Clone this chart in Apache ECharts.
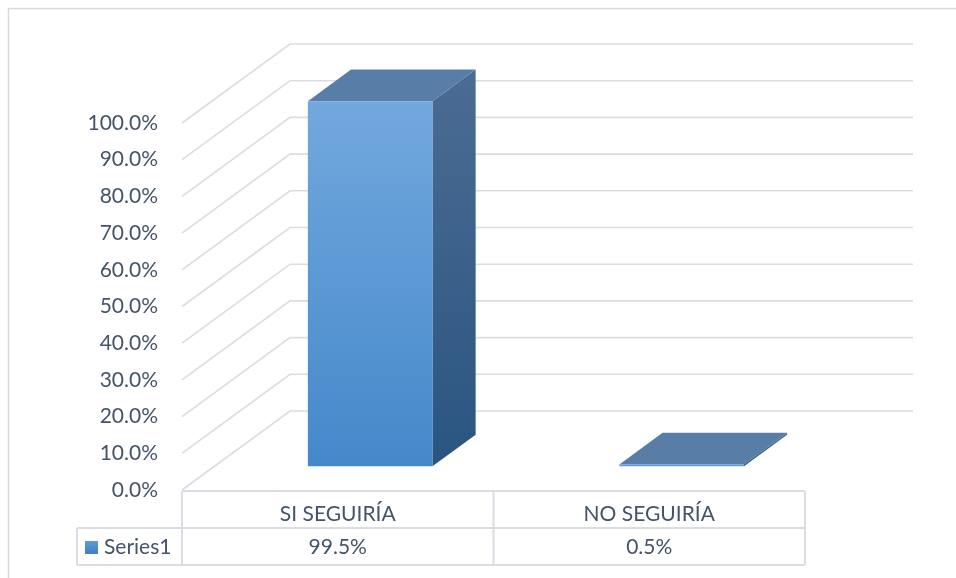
<!DOCTYPE html>
<html><head><meta charset="utf-8">
<script src="https://cdn.jsdelivr.net/npm/echarts@6/dist/echarts.min.js"></script>
<style>html,body{margin:0;padding:0;background:#fff}#c{width:956px;height:578px}</style>
</head><body><div id="c"></div>
<script>
// ---- data ----
const categories = ['SI SEGUIRÍA', 'NO SEGUIRÍA'];
const seriesName = 'Series1';
const values = [99.5, 0.5];
const yTicks = [0, 10, 20, 30, 40, 50, 60, 70, 80, 90, 100];

// ---- styling / projection ----
const DX = 108, DY = -79;          // depth offset of back wall
const D0 = 0.30, D1 = 0.70;        // bar depth (front/back) as fraction of depth
const GRID = '#d9dde4';
const TXT = '#44546A';
const FONT = 'Lato';

const chart = echarts.init(document.getElementById('c'), null, {renderer: 'canvas'});

function wallsRender(params, api) {
  const cs = params.coordSys;
  const y = api.coord([0, api.value(1)])[1];
  const x0 = cs.x, x1 = cs.x + cs.width;
  return {
    type: 'polyline',
    shape: {points: [[x0, y], [x0 + DX, y + DY], [x1 + DX, y + DY]]},
    style: {stroke: GRID, lineWidth: 1.6, fill: null}
  };
}

function barRender(params, api) {
  const i = api.value(0), v = api.value(1);
  const c0 = api.coord([i, 0]);
  const c1 = api.coord([i, v]);
  const bw = api.size([1, 0])[0] * 0.4;
  const xl = c0[0] - bw / 2, xr = c0[0] + bw / 2;
  const yb = c0[1], yt = c1[1];
  const ax = DX * D0, ay = DY * D0, bx = DX * D1, by = DY * D1;
  return {
    type: 'group',
    children: [
      { type: 'polygon',
        shape: {points: [[xr + ax, yt + ay], [xr + bx, yt + by], [xr + bx, yb + by], [xr + ax, yb + ay]]},
        style: {fill: new echarts.graphic.LinearGradient(0, 0, 0, 1, [
          {offset: 0, color: '#4b6c93'}, {offset: 1, color: '#2a5581'}])}
      },
      { type: 'polygon',
        shape: {points: [[xl + ax, yt + ay], [xr + ax, yt + ay], [xr + bx, yt + by], [xl + bx, yt + by]]},
        style: {fill: '#587ea8'}
      },
      { type: 'rect',
        shape: {x: xl + ax, y: yt + ay, width: bw, height: Math.max(yb - yt, 1.5)},
        style: {fill: v > 5 ? new echarts.graphic.LinearGradient(0, 0, 0, 1, [
          {offset: 0, color: '#72a8de'}, {offset: 1, color: '#4588ca'}]) : '#5f9ad6'}
      }
    ]
  };
}

function tableRender(params, api) {
  const cs = params.coordSys;
  const bw = api.size([1, 0])[0];
  const yTop = cs.y + cs.height + 1;
  const yMid = yTop + 37;
  const yBot = yMid + 37;
  const xL = cs.x, xR = cs.x + cs.width;
  const legL = xL - 105;
  const ch = [];
  const line = (x1, y1, x2, y2) => ch.push({type: 'line', shape: {x1, y1, x2, y2},
    style: {stroke: GRID, lineWidth: 2}});
  line(xL, yTop, xR, yTop);
  line(legL, yMid, xR, yMid);
  line(legL, yBot, xR, yBot);
  line(legL, yMid, legL, yBot);
  line(xL, yTop, xL, yBot);
  categories.forEach((cat, i) => {
    const cx = api.coord([i, 0])[0];
    line(cx + bw / 2, yTop, cx + bw / 2, yBot);
    ch.push({type: 'text', style: {text: cat, x: cx, y: yTop + 23, align: 'center', verticalAlign: 'middle',
      fill: TXT, font: '21px ' + FONT}});
    ch.push({type: 'text', style: {text: values[i].toFixed(1) + '%', x: cx, y: yMid + 19, align: 'center',
      verticalAlign: 'middle', fill: TXT, font: '21px ' + FONT}});
  });
  ch.push({type: 'rect', shape: {x: legL + 8, y: yMid + 13, width: 13, height: 13},
    style: {fill: new echarts.graphic.LinearGradient(0, 0, 0, 1, [
      {offset: 0, color: '#5d9cd8'}, {offset: 1, color: '#3f80c2'}])}});
  ch.push({type: 'text', style: {text: seriesName, x: legL + 27, y: yMid + 19, align: 'left',
    verticalAlign: 'middle', fill: TXT, font: '21px ' + FONT}});
  return {type: 'group', children: ch};
}

chart.setOption({
  animation: false,
  backgroundColor: '#fff',
  graphic: [{type: 'rect', shape: {x: 8.5, y: 8.5, width: 1000, height: 600},
    style: {fill: null, stroke: '#d9d9d9', lineWidth: 1.5}, silent: true, z: -10}],
  grid: {left: 182, right: 151, top: 123, bottom: 88, containLabel: false},
  xAxis: {type: 'category', data: categories, axisLine: {show: false}, axisTick: {show: false},
    axisLabel: {show: false}, splitLine: {show: false}},
  yAxis: {type: 'value', min: 0, max: 100, interval: 10,
    axisLine: {show: false}, axisTick: {show: false}, splitLine: {show: false},
    axisLabel: {margin: 24, color: TXT, fontFamily: FONT, fontSize: 21,
      formatter: v => v.toFixed(1) + '%'}},
  series: [
    {type: 'custom', name: 'walls', renderItem: wallsRender, data: yTicks.map(v => [0, v]), z: 1, silent: true},
    {type: 'custom', name: seriesName, renderItem: barRender, data: values.map((v, i) => [i, v]), z: 2},
    {type: 'custom', name: 'table', renderItem: tableRender, data: [[0, 0]], z: 3, silent: true, clip: false}
  ]
});
</script></body></html>
